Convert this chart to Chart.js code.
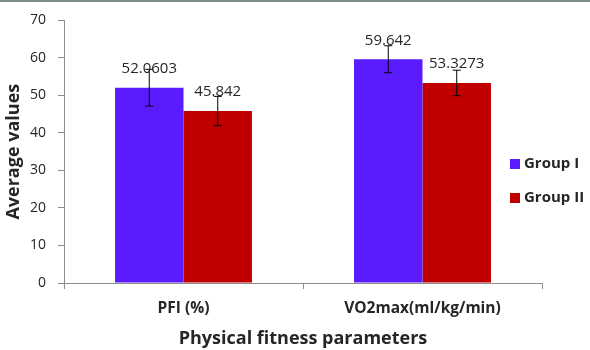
<!DOCTYPE html>
<html>
<head>
<meta charset="utf-8">
<script src="https://cdn.jsdelivr.net/npm/chart.js@4.4.1/dist/chart.umd.min.js"></script>
<style>
  body { margin: 0; background: #fff; }
  #wrap { position: relative; width: 590px; height: 350px; }
  #topline { position: absolute; left: 0; top: 0; width: 590px; height: 2px; background: #7f8c8d; }
</style>
</head>
<body>
<div id="wrap">
  <canvas id="myChart" width="590" height="350"></canvas>
  <div id="topline"></div>
</div>
<script>
const categories = ['PFI (%)', 'VO2max(ml/kg/min)'];
const seriesNames = ['Group I', 'Group II'];
const groupI = [52.0603, 59.642];
const groupII = [45.842, 53.3273];
const errGroupI = [4.9, 3.6];
const errGroupII = [3.9, 3.4];
const valueLabels = [['52.0603', '59.642'], ['45.842', '53.3273']];

const textColor = '#262626';
const axisColor = '#8c8c8c';
const fam = '"Open Sans"';

// barres d'erreur + valeurs au-dessus des barres
const errorBars = {
  id: 'errorBars',
  afterDatasetsDraw(chart) {
    const ctx = chart.ctx;
    const y = chart.scales.y;
    const errs = [errGroupI, errGroupII];
    ctx.save();
    chart.data.datasets.forEach((ds, i) => {
      const meta = chart.getDatasetMeta(i);
      meta.data.forEach((bar, j) => {
        const v = ds.data[j];
        const top = y.getPixelForValue(v + errs[i][j]);
        const bot = y.getPixelForValue(v - errs[i][j]);
        ctx.strokeStyle = '#000';
        ctx.lineWidth = 1;
        ctx.beginPath();
        ctx.moveTo(bar.x, top); ctx.lineTo(bar.x, bot);
        ctx.moveTo(bar.x - 4, top); ctx.lineTo(bar.x + 4, top);
        ctx.moveTo(bar.x - 4, bot); ctx.lineTo(bar.x + 4, bot);
        ctx.stroke();
        ctx.fillStyle = textColor;
        ctx.font = '15px ' + fam;
        ctx.textAlign = 'center';
        ctx.textBaseline = 'middle';
        ctx.fillText(valueLabels[i][j], bar.x, bar.y - 19);
      });
    });
    ctx.restore();
  }
};

// légende à droite
const sideLegend = {
  id: 'sideLegend',
  afterDraw(chart) {
    const ctx = chart.ctx;
    const x0 = chart.chartArea.right - 32;
    ctx.save();
    chart.data.datasets.forEach((ds, i) => {
      const cy = 164 + i * 34;
      ctx.fillStyle = ds.backgroundColor;
      ctx.fillRect(x0, cy - 5, 10, 10);
      ctx.fillStyle = textColor;
      ctx.font = 'bold 15px ' + fam;
      ctx.textAlign = 'left';
      ctx.textBaseline = 'middle';
      ctx.fillText(ds.label, x0 + 14, cy);
    });
    ctx.restore();
  }
};

new Chart(document.getElementById('myChart'), {
  type: 'bar',
  data: {
    labels: categories,
    datasets: [
      { label: seriesNames[0], data: groupI, backgroundColor: '#5a1cff' },
      { label: seriesNames[1], data: groupII, backgroundColor: '#c00000' }
    ]
  },
  options: {
    responsive: false,
    animation: false,
    layout: { padding: { top: 12, right: 48, left: 0, bottom: 0 } },
    datasets: { bar: { barPercentage: 1, categoryPercentage: 0.573 } },
    plugins: { legend: { display: false }, tooltip: { enabled: false } },
    scales: {
      x: {
        grid: { drawOnChartArea: false, tickLength: 6, color: axisColor },
        border: { color: axisColor },
        ticks: { color: textColor, font: { family: 'Open Sans', size: 15.5, weight: 'bold' }, padding: 10 },
        title: {
          display: true, text: 'Physical fitness parameters', color: textColor,
          font: { family: 'Open Sans', size: 18, weight: 'bold' }, padding: { top: 0, bottom: 0 }
        },
        afterFit(scale) { scale.height = 67; }
      },
      y: {
        min: 0, max: 70,
        grid: { drawOnChartArea: false, tickLength: 6, color: axisColor },
        border: { color: axisColor },
        ticks: { stepSize: 10, color: textColor, font: { family: 'Open Sans', size: 14 }, padding: 12 },
        title: {
          display: true, text: 'Average values', color: textColor,
          font: { family: 'Open Sans', size: 18, weight: 'bold' }, padding: { top: 3, bottom: 0 }
        },
        afterFit(scale) { scale.width = 64; }
      }
    }
  },
  plugins: [errorBars, sideLegend]
});
</script>
</body>
</html>
